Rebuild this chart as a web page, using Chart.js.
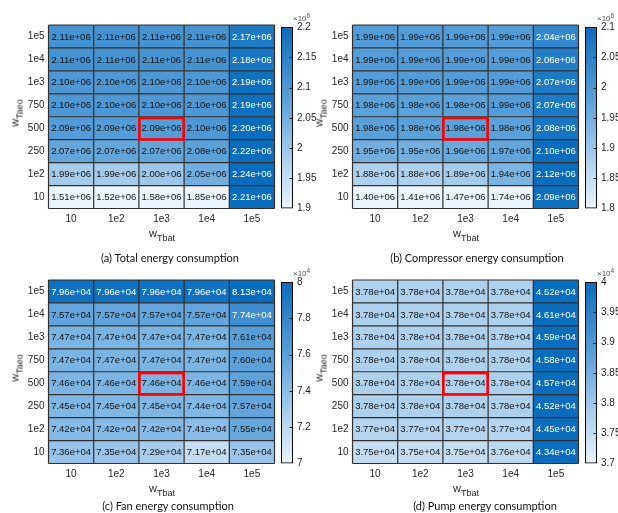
<!DOCTYPE html>
<html><head><meta charset="utf-8">
<script src="https://cdn.jsdelivr.net/npm/chart.js@4.4.1/dist/chart.umd.min.js"></script>
<style>
html,body{margin:0;padding:0;background:#fff;}
#root{position:relative;width:618px;height:513px;overflow:hidden;font-family:"Liberation Sans",Arial,sans-serif;color:#262626;}
canvas{position:absolute;}
.lbl{position:absolute;white-space:nowrap;line-height:1;}
.xt{font-size:11px;transform:translateX(-50%);}
.xt sub,.yt sub{font-size:9px;vertical-align:-4px;line-height:1;}
.yt{font-size:11px;transform:translate(-50%,-50%) rotate(-90deg);}
.cap{font-family:Lato,"Open Sans",sans-serif;font-size:11px;color:#111;transform:translateX(-50%);}
.ex{font-size:8px;color:#555;}
.ex sup{font-size:6.5px;vertical-align:3px;}
</style></head><body><div id="root"></div>
<script>
// ---- data ----
const xLabels = ['10', '1e2', '1e3', '1e4', '1e5'];          // w_Tbat
const yLabels = ['10', '1e2', '250', '500', '750', '1e3', '1e4', '1e5']; // w_Taeo, bottom to top

// rows bottom (10) to top (1e5), columns 10..1e5
const totalVals = [
  [1.51e6, 1.52e6, 1.58e6, 1.85e6, 2.21e6],
  [1.99e6, 1.99e6, 2.00e6, 2.05e6, 2.24e6],
  [2.07e6, 2.07e6, 2.07e6, 2.08e6, 2.22e6],
  [2.09e6, 2.09e6, 2.09e6, 2.10e6, 2.20e6],
  [2.10e6, 2.10e6, 2.10e6, 2.10e6, 2.19e6],
  [2.10e6, 2.10e6, 2.10e6, 2.10e6, 2.19e6],
  [2.11e6, 2.11e6, 2.11e6, 2.11e6, 2.18e6],
  [2.11e6, 2.11e6, 2.11e6, 2.11e6, 2.17e6]
];
const compVals = [
  [1.40e6, 1.41e6, 1.47e6, 1.74e6, 2.09e6],
  [1.88e6, 1.88e6, 1.89e6, 1.94e6, 2.12e6],
  [1.95e6, 1.95e6, 1.96e6, 1.97e6, 2.10e6],
  [1.98e6, 1.98e6, 1.98e6, 1.98e6, 2.08e6],
  [1.98e6, 1.98e6, 1.98e6, 1.99e6, 2.07e6],
  [1.99e6, 1.99e6, 1.99e6, 1.99e6, 2.07e6],
  [1.99e6, 1.99e6, 1.99e6, 1.99e6, 2.06e6],
  [1.99e6, 1.99e6, 1.99e6, 1.99e6, 2.04e6]
];
const fanVals = [
  [7.36e4, 7.35e4, 7.29e4, 7.17e4, 7.35e4],
  [7.42e4, 7.42e4, 7.42e4, 7.41e4, 7.55e4],
  [7.45e4, 7.45e4, 7.45e4, 7.44e4, 7.57e4],
  [7.46e4, 7.46e4, 7.46e4, 7.46e4, 7.59e4],
  [7.47e4, 7.47e4, 7.47e4, 7.47e4, 7.60e4],
  [7.47e4, 7.47e4, 7.47e4, 7.47e4, 7.61e4],
  [7.57e4, 7.57e4, 7.57e4, 7.57e4, 7.74e4],
  [7.96e4, 7.96e4, 7.96e4, 7.96e4, 8.13e4]
];
const pumpVals = [
  [3.75e4, 3.75e4, 3.75e4, 3.76e4, 4.34e4],
  [3.77e4, 3.77e4, 3.77e4, 3.77e4, 4.45e4],
  [3.78e4, 3.78e4, 3.78e4, 3.78e4, 4.52e4],
  [3.78e4, 3.78e4, 3.78e4, 3.78e4, 4.57e4],
  [3.78e4, 3.78e4, 3.78e4, 3.78e4, 4.58e4],
  [3.78e4, 3.78e4, 3.78e4, 3.78e4, 4.59e4],
  [3.78e4, 3.78e4, 3.78e4, 3.78e4, 4.61e4],
  [3.78e4, 3.78e4, 3.78e4, 3.78e4, 4.52e4]
];
const panelVals = [totalVals, compVals, fanVals, pumpVals];
const captions = ['(a) Total energy consumption', '(b) Compressor energy consumption', '(c) Fan energy consumption', '(d) Pump energy consumption'];
const cbMin = [1.9e6, 1.8e6, 7.0e4, 3.7e4];
const cbMax = [2.2e6, 2.1e6, 8.0e4, 4.0e4];
const cbStep = [0.05e6, 0.05e6, 0.2e4, 0.05e4];
const cbExp = [6, 6, 4, 4];
const highlight = {col: 2, row: 3}; // (1e3, 500)

// ---- style / layout ----
const offX = [0, 304, 0, 304];
const offY = [0, 0, 255, 255];
const capX = [170, 477, 168, 485];
const capY = [252, 252, 500, 500];
const stops = [[0, [236, 244, 251]], [0.3, [165, 203, 235]], [0.6, [90, 160, 217]], [1, [10, 108, 188]]];
const TXT = '#262626';
const FONT = '"Liberation Sans", Arial, sans-serif';

function cmap(f) {
  f = Math.max(0, Math.min(1, f));
  for (let i = 1; i < stops.length; i++) {
    if (f <= stops[i][0]) {
      const [f0, c0] = stops[i - 1], [f1, c1] = stops[i];
      const t = (f - f0) / (f1 - f0);
      return 'rgb(' + c0.map((v, k) => Math.round(v + (c1[k] - v) * t)).join(',') + ')';
    }
  }
  return 'rgb(' + stops[stops.length - 1][1].join(',') + ')';
}
function fmt(v) {
  const e = Math.floor(Math.log10(v));
  const m = (v / Math.pow(10, e)).toFixed(2);
  return m + 'e+' + String(e).padStart(2, '0');
}
const root = document.getElementById('root');
function addLabel(cls, html, left, top) {
  const d = document.createElement('div');
  d.className = 'lbl ' + cls; d.innerHTML = html;
  d.style.left = left + 'px'; d.style.top = top + 'px';
  root.appendChild(d);
}
function mkCanvas(w, h, l, t) {
  const cv = document.createElement('canvas');
  cv.width = w; cv.height = h; cv.style.width = w + 'px'; cv.style.height = h + 'px';
  cv.style.left = l + 'px'; cv.style.top = t + 'px';
  root.appendChild(cv);
  return cv;
}

function heatChart(p) {
  const ox = offX[p], oy = offY[p];
  const vals = panelVals[p];
  const cv = mkCanvas(280, 250, ox, oy);
  const mn = cbMin[p], mx = cbMax[p];
  const datasets = yLabels.map((lab, r) => ({
    label: lab,
    data: xLabels.map(() => [r, r + 1]),
    backgroundColor: xLabels.map((_, c) => cmap((vals[r][c] - mn) / (mx - mn))),
    borderWidth: 0, barPercentage: 1, categoryPercentage: 1, grouped: false
  }));
  const cellPlugin = {
    id: 'cells' + p,
    afterDatasetsDraw(chart) {
      const {ctx, chartArea: a, scales: {x, y}} = chart;
      ctx.save();
      ctx.font = '9.5px ' + FONT;
      ctx.textAlign = 'center'; ctx.textBaseline = 'middle';
      for (let r = 0; r < yLabels.length; r++) {
        for (let c = 0; c < xLabels.length; c++) {
          const v = vals[r][c];
          const f = (v - mn) / (mx - mn);
          ctx.fillStyle = f >= 0.72 ? '#ffffff' : '#141414';
          ctx.fillText(fmt(v), x.getPixelForValue(c), y.getPixelForValue(r + 0.5) + 0.5);
        }
      }
      ctx.strokeStyle = '#303030'; ctx.lineWidth = 1.2;
      ctx.beginPath();
      for (let c = 0; c <= xLabels.length; c++) {
        const px = c === 0 ? a.left : c === xLabels.length ? a.right : (x.getPixelForValue(c - 1) + x.getPixelForValue(c)) / 2;
        ctx.moveTo(px, a.top); ctx.lineTo(px, a.bottom);
      }
      for (let r = 0; r <= yLabels.length; r++) {
        const py = y.getPixelForValue(r);
        ctx.moveTo(a.left, py); ctx.lineTo(a.right, py);
      }
      ctx.stroke();
      // highlight box
      const hc = highlight.col, hr = highlight.row;
      const x0 = (x.getPixelForValue(hc - 1) + x.getPixelForValue(hc)) / 2;
      const x1 = (x.getPixelForValue(hc) + x.getPixelForValue(hc + 1)) / 2;
      const y0 = y.getPixelForValue(hr + 1), y1 = y.getPixelForValue(hr);
      ctx.strokeStyle = '#ff0000'; ctx.lineWidth = 2.6;
      ctx.strokeRect(x0 + 0.5, y0 + 1.3, x1 - x0 - 1, y1 - y0 - 1.6);
      ctx.restore();
    }
  };
  new Chart(cv, {
    type: 'bar',
    data: {labels: xLabels, datasets},
    options: {
      responsive: false, animation: false, devicePixelRatio: 1,
      layout: {padding: {top: 25, right: 5.5, left: 0, bottom: 0}},
      plugins: {legend: {display: false}, tooltip: {enabled: false}},
      scales: {
        x: {
          type: 'category', offset: true,
          grid: {display: false, drawTicks: false}, border: {display: false},
          ticks: {color: TXT, font: {family: FONT, size: 10}, padding: 5, maxRotation: 0, autoSkip: false},
          afterFit(s) { s.height = 41.5; }
        },
        y: {
          type: 'linear', min: 0, max: 8,
          grid: {display: false, drawTicks: false}, border: {display: false},
          afterBuildTicks(s) { s.ticks = yLabels.map((_, i) => ({value: i + 0.5})); },
          ticks: {color: TXT, font: {family: FONT, size: 10}, padding: 4, autoSkip: false,
            callback: (v) => yLabels[Math.floor(v)]},
          afterFit(s) { s.width = 48.5; }
        }
      }
    },
    plugins: [cellPlugin]
  });
  // axis titles & caption
  addLabel('xt', 'w<sub>Tbat</sub>', ox + 162, oy + 228);
  addLabel('yt', 'w<sub>Taeo</sub>', ox + 17, oy + 113);
  addLabel('cap', captions[p], capX[p], capY[p]);
}

function cbChart(p) {
  const ox = offX[p], oy = offY[p];
  const mn = cbMin[p], mx = cbMax[p], ex = cbExp[p];
  const cv = mkCanvas(50, 250, ox + 270, oy);
  const tickPlugin = {
    id: 'cbt' + p,
    afterDatasetsDraw(chart) {
      const {ctx, chartArea: a, scales: {y}} = chart;
      ctx.save();
      ctx.strokeStyle = '#222'; ctx.lineWidth = 1;
      ctx.beginPath();
      y.ticks.forEach(t => {
        const py = Math.round(y.getPixelForValue(t.value)) + 0.5;
        if (t.value <= mn || t.value >= mx) return;
        ctx.moveTo(a.right - 3.5, py); ctx.lineTo(a.right, py);
      });
      ctx.stroke();
      ctx.restore();
    }
  };
  new Chart(cv, {
    type: 'bar',
    data: {labels: [''], datasets: [{
      data: [[mn, mx]],
      backgroundColor(ctx) {
        const a = ctx.chart.chartArea;
        if (!a) return '#888';
        const g = ctx.chart.ctx.createLinearGradient(0, a.bottom, 0, a.top);
        stops.forEach(([f, c]) => g.addColorStop(f, 'rgb(' + c.join(',') + ')'));
        return g;
      },
      borderColor: '#000', borderWidth: 1.3, borderSkipped: false,
      barPercentage: 1, categoryPercentage: 1
    }]},
    options: {
      responsive: false, animation: false, devicePixelRatio: 1,
      layout: {padding: {top: 27, right: 0, left: 11, bottom: 41.5}},
      plugins: {legend: {display: false}, tooltip: {enabled: false}},
      scales: {
        x: {display: false},
        y: {
          position: 'right', min: mn, max: mx,
          grid: {drawOnChartArea: false, drawTicks: false}, border: {display: false},
          ticks: {stepSize: cbStep[p], color: TXT, font: {family: FONT, size: 10}, padding: 4,
            callback: (v) => String(+(v / Math.pow(10, ex)).toFixed(3))},
          afterFit(s) { s.width = 27; }
        }
      }
    },
    plugins: [tickPlugin]
  });
  addLabel('ex', '&times;10<sup>' + ex + '</sup>', ox + 293, oy + 13);
}

for (let p = 0; p < 4; p++) { heatChart(p); cbChart(p); }
</script>
</body></html>
